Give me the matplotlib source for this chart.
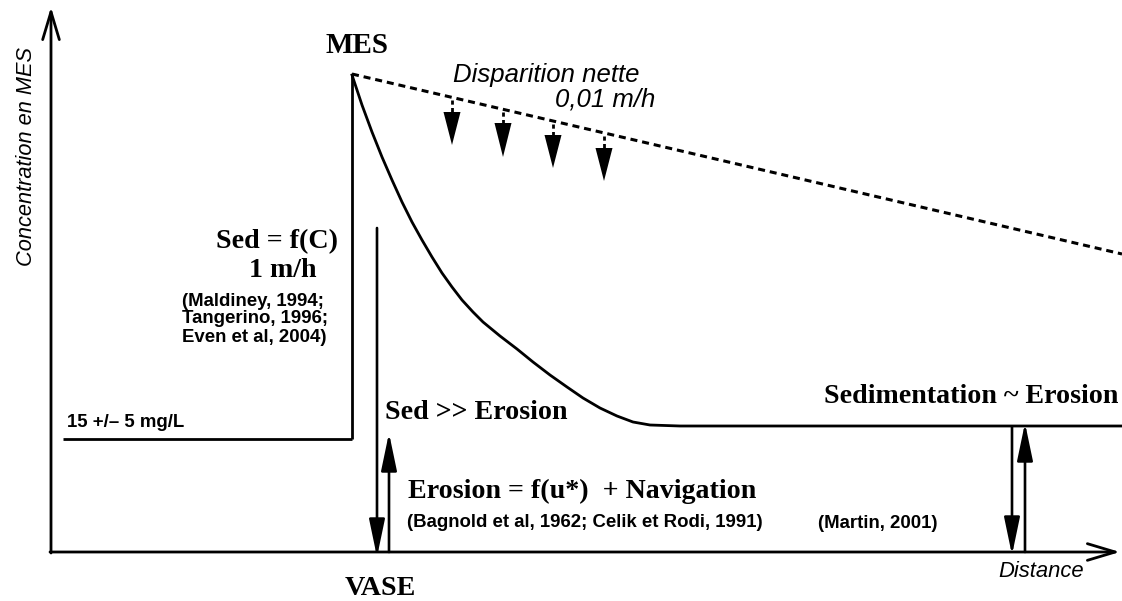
import matplotlib
matplotlib.use("Agg")
import matplotlib.pyplot as plt
import numpy as np

# ---- data (schematic, in pixel-like units: x = distance, y = height down from top) ----
baseline_x = [63, 352]
baseline_y = [439, 439]
jump_x = [352, 352]
jump_y = [439, 75]
curve_x = [352, 362, 372, 382, 392, 402, 412, 422, 432, 442, 452, 462, 473,
           483, 500, 517, 533, 550, 567, 583, 600, 617, 633, 650, 680, 1122]
curve_y = [75, 105, 132, 157, 180, 202, 222, 240, 257, 273, 287, 300, 312,
           322, 336, 349, 362, 375, 387, 398, 408, 416, 422, 425, 426, 426]
dashed_x = [352, 1122]
dashed_y = [74, 254]
# small dashed arrows: x position, triangle top, triangle tip
small_arrow_x = [452, 503, 553, 604]
small_arrow_top = [112, 123, 135, 148]
small_arrow_tip = [145, 157, 168, 181]
# vertical flux arrows: (x, y_start, y_end)
flux_arrows = [(377, 228, 557), (389, 552, 433), (1012, 427, 555), (1025, 552, 423)]

SERIF = "Liberation Serif"
SANS = "Liberation Sans"

fig = plt.figure(figsize=(11.22, 6.01), dpi=100)
ax = fig.add_axes([0, 0, 1, 1])
ax.set_xlim(0, 1122)
ax.set_ylim(601, 0)
ax.axis("off")

LW = 2.0
# axes with open arrowheads
ax.annotate("", xy=(51, 7), xytext=(51, 553),
            arrowprops=dict(arrowstyle="->,head_length=2.0,head_width=0.6", lw=LW,
                            color="black", shrinkA=0, shrinkB=0, mutation_scale=10))
ax.annotate("", xy=(1120, 552), xytext=(50, 552),
            arrowprops=dict(arrowstyle="->,head_length=2.0,head_width=0.6", lw=LW,
                            color="black", shrinkA=0, shrinkB=0, mutation_scale=10))

# concentration profile
ax.plot(baseline_x, baseline_y, color="black", lw=LW, solid_capstyle="butt")
ax.plot(jump_x, jump_y, color="black", lw=LW, solid_capstyle="butt")
ax.plot(curve_x, curve_y, color="black", lw=LW, solid_joinstyle="round")
ax.plot(dashed_x, dashed_y, color="black", lw=2.2, linestyle=(0, (2.3, 1.6)))

# small settling arrows
for x, top, tip in zip(small_arrow_x, small_arrow_top, small_arrow_tip):
    yline = dashed_y[0] + (x - dashed_x[0]) * (dashed_y[1] - dashed_y[0]) / (dashed_x[1] - dashed_x[0])
    ax.plot([x, x], [yline + 3, top], color="black", lw=2.0, linestyle=(0, (1.5, 1.2)))
    ax.fill([x - 8.5, x + 8.5, x], [top, top, tip], color="black", lw=0)

# flux arrows
for x, y0, y1 in flux_arrows:
    ax.annotate("", xy=(x, y1), xytext=(x, y0),
                arrowprops=dict(arrowstyle="-|>,head_length=2.3,head_width=0.48", lw=1.9,
                                color="black", shrinkA=0, shrinkB=0, mutation_scale=10))

# texts
bs = 20.2
ss = 13.4
ax.text(32, 156, "Concentration en MES", rotation=90, rotation_mode="anchor",
        ha="center", va="baseline", family=SANS, style="italic", fontsize=15.7)
ax.text(357, 53, "MES", ha="center", va="baseline", family=SERIF, weight="bold", fontsize=21)
ax.text(453, 82, "Disparition nette", ha="left", va="baseline", family=SANS, style="italic", fontsize=18.5)
ax.text(655, 106, "0,01 m/h", ha="right", va="baseline", family=SANS, style="italic", fontsize=18.5)
ax.text(338, 248, "Sed = f(C)", ha="right", va="baseline", family=SERIF, weight="bold", fontsize=bs)
ax.text(283, 277, "1 m/h", ha="center", va="baseline", family=SERIF, weight="bold", fontsize=bs)
ax.text(182, 306, "(Maldiney, 1994;", ha="left", va="baseline", family=SANS, weight="bold", fontsize=ss)
ax.text(182, 323, "Tangerino, 1996;", ha="left", va="baseline", family=SANS, weight="bold", fontsize=ss)
ax.text(182, 342, "Even et al, 2004)", ha="left", va="baseline", family=SANS, weight="bold", fontsize=ss)
ax.text(67, 427, "15 +/– 5 mg/L", ha="left", va="baseline", family=SANS, weight="bold", fontsize=ss)
ax.text(380, 595, "VASE", ha="center", va="baseline", family=SERIF, weight="bold", fontsize=bs)
ax.text(385, 419, "Sed >> Erosion", ha="left", va="baseline", family=SERIF, weight="bold", fontsize=bs)
ax.text(408, 498, "Erosion = f(u*)  + Navigation", ha="left", va="baseline", family=SERIF, weight="bold", fontsize=bs)
ax.text(407, 527, "(Bagnold et al, 1962; Celik et Rodi, 1991)", ha="left", va="baseline", family=SANS, weight="bold", fontsize=ss)
ax.text(818, 528, "(Martin, 2001)", ha="left", va="baseline", family=SANS, weight="bold", fontsize=ss)
ax.text(1118, 403, "Sedimentation ~ Erosion", ha="right", va="baseline", family=SERIF, weight="bold", fontsize=bs)
ax.text(998, 577, "Distance", ha="left", va="baseline", family=SANS, style="italic", fontsize=15.8)

fig.savefig("out.png", dpi=100)
